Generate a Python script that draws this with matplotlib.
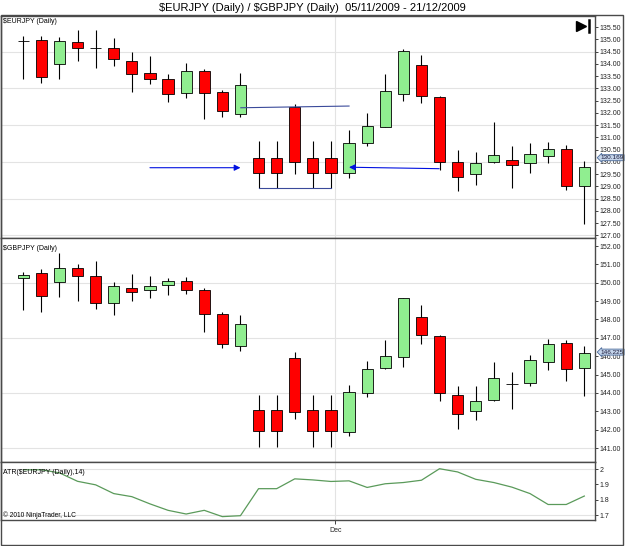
import matplotlib
matplotlib.use('Agg')
import matplotlib.pyplot as plt
from matplotlib.patches import Rectangle
from matplotlib.transforms import blended_transform_factory
import numpy as np

plt.rcParams['font.family'] = ['Liberation Sans', 'DejaVu Sans']

# $EURJPY daily bars (05/11/2009 onward)
eur_open = [134.95, 134.98, 133.99, 134.89, 134.67, 134.64, 134.11, 133.62, 133.38, 132.82,
            133.70, 132.84, 131.96, 130.16, 130.16, 132.23, 130.16, 130.16, 129.55, 130.78,
            131.43, 132.78, 133.95, 132.65, 129.98, 129.49, 130.00, 130.06, 129.94, 130.23,
            130.51, 129.02]
eur_high = [135.16, 135.16, 135.09, 135.39, 135.39, 135.05, 134.48, 134.34, 133.60, 134.03,
            133.79, 132.95, 133.62, 130.85, 130.85, 132.35, 130.85, 130.85, 131.30, 132.00,
            133.59, 134.61, 134.37, 132.69, 130.48, 130.39, 131.61, 130.64, 130.78, 130.81,
            130.70, 130.04]
eur_low = [133.37, 133.23, 133.37, 134.13, 133.82, 133.93, 132.87, 133.18, 132.43, 132.59,
           131.75, 131.82, 131.84, 128.95, 128.95, 129.51, 128.95, 128.95, 129.32, 130.66,
           131.41, 132.50, 132.39, 129.66, 128.81, 129.04, 129.94, 128.92, 129.55, 129.94,
           128.86, 127.45]
eur_close = [134.95, 133.45, 134.94, 134.65, 134.67, 134.20, 133.60, 133.37, 132.78, 133.70,
             132.82, 132.09, 133.13, 129.55, 129.55, 129.99, 129.55, 129.55, 130.79, 131.46,
             132.88, 134.53, 132.68, 130.00, 129.40, 129.94, 130.26, 129.87, 130.30, 130.51,
             129.02, 129.77]
eur_last = 130.169

# $GBPJPY daily bars
gbp_open = [150.24, 150.51, 150.03, 150.82, 150.39, 148.92, 149.70, 149.59, 149.86, 150.12,
            149.61, 148.30, 146.55, 143.07, 143.07, 145.91, 143.07, 143.07, 141.87, 143.99,
            145.35, 145.95, 148.11, 147.09, 143.90, 143.00, 143.63, 144.48, 144.54, 145.71,
            146.71, 145.37]
gbp_high = [150.61, 150.75, 151.60, 151.02, 151.18, 150.03, 150.46, 150.37, 150.24, 150.33,
            149.70, 148.39, 148.25, 143.90, 143.90, 146.22, 143.90, 143.90, 144.45, 145.75,
            146.87, 149.19, 148.79, 147.14, 144.36, 144.39, 145.68, 145.13, 146.06, 146.95,
            146.87, 146.57]
gbp_low = [148.54, 148.43, 149.21, 149.01, 148.58, 148.25, 149.01, 149.16, 149.34, 149.41,
           147.34, 146.47, 146.31, 141.06, 141.06, 142.56, 141.06, 141.06, 141.66, 143.78,
           145.30, 145.44, 146.69, 143.59, 142.02, 142.51, 143.59, 143.14, 144.36, 145.24,
           144.66, 143.83]
gbp_close = [150.41, 149.26, 150.82, 150.39, 148.92, 149.84, 149.48, 149.81, 150.08, 149.59,
             148.30, 146.66, 147.74, 141.93, 141.93, 142.96, 141.93, 141.93, 144.03, 145.28,
             145.99, 149.16, 147.14, 143.99, 142.87, 143.58, 144.81, 144.48, 145.79, 146.66,
             145.28, 146.17]
gbp_last = 146.225

# ATR($EURJPY (Daily),14)
atr = [1.995, 1.995, 1.975, 1.920, 1.897, 1.840, 1.820, 1.773, 1.731, 1.707,
       1.731, 1.690, 1.696, 1.872, 1.872, 1.936, 1.929, 1.919, 1.923, 1.880,
       1.904, 1.912, 1.927, 2.002, 1.981, 1.933, 1.912, 1.882, 1.840, 1.769,
       1.769, 1.824]

# hand-drawn annotations on the EURJPY panel: (x0, y0, x1, y1)
resistance_line = (12.02, 132.21, 18.0, 132.28)
arrow_left = (7.0, 129.76, 12.0, 129.76)
arrow_right = (22.98, 129.72, 18.0, 129.78)
dec_pos = 17.25

x = np.arange(len(eur_open))
W, H = 625, 546
frame_col = '#4a4a4a'
grid_col = '#e3e3e3'


def draw_candles(ax, o, h, l, c):
    o, h, l, c = map(np.asarray, (o, h, l, c))
    ax.vlines(x, l, h, color='black', lw=0.8, zorder=2)
    cols = np.where(c > o, '#90ee90', '#ff0000')
    ax.bar(x, np.abs(c - o), bottom=np.minimum(o, c), width=0.62, color=cols,
           edgecolor='black', linewidth=0.6, zorder=3)


def style_axis(ax, ticks, labels, ylim, grid):
    ax.set_xlim(-1.23, 31.59)
    ax.set_ylim(*ylim)
    ax.yaxis.tick_right()
    ax.set_yticks(ticks)
    ax.set_yticklabels(labels)
    ax.tick_params(axis='y', labelsize=5, length=2.5, width=0.6, pad=1, colors='#222222')
    ax.tick_params(axis='x', bottom=False, labelbottom=False)
    for g in grid:
        ax.axhline(g, color=grid_col, lw=0.8, zorder=0)
    ax.axvline(dec_pos, color=grid_col, lw=0.8, zorder=0)
    for s in ax.spines.values():
        s.set_color(frame_col)
        s.set_linewidth(1.0)


def box(top, bottom):
    return [1 / W, 1 - bottom / H, 594 / W, (bottom - top) / H]


fig = plt.figure(figsize=(W / 100, H / 100), dpi=100)
ax1 = fig.add_axes(box(15.5, 237.7))
ax2 = fig.add_axes(box(238.3, 461.5))
ax3 = fig.add_axes(box(461.5, 520))

# panel 1
t1 = np.arange(127.0, 135.51, 0.5)
style_axis(ax1, t1, ['%.2f' % v for v in t1], (126.90, 135.98),
           np.arange(127.0, 134.6, 1.5))
draw_candles(ax1, eur_open, eur_high, eur_low, eur_close)
ax1.text(0.004, 0.972, r'\$EURJPY (Daily)', transform=ax1.transAxes, fontsize=5,
         va='center', ha='left')

navy = '#3a4a9a'
ax1.plot(resistance_line[0::2], resistance_line[1::2], color=navy, lw=0.8, zorder=4)
ax1.plot([13, 17], [eur_low[13], eur_low[17]], color=navy, lw=0.8, zorder=4)
for a in (arrow_left, arrow_right):
    ax1.annotate('', xy=(a[2], a[3]), xytext=(a[0], a[1]),
                 arrowprops=dict(arrowstyle='-|>', color=navy, lw=0.8,
                                 mutation_scale=9, shrinkA=0, shrinkB=0,
                                 fc='#0010e0', ec='#0010e0'), zorder=5)

# play-to-end icon
ax1.plot([0.9765], [0.953], marker='>', ms=7, color='black', transform=ax1.transAxes,
         clip_on=False)
ax1.plot([0.9905, 0.9905], [0.927, 0.979], color='black', lw=1.8, transform=ax1.transAxes,
         clip_on=False)

# panel 2
t2 = np.arange(141, 153)
style_axis(ax2, t2, ['%.2f' % v for v in t2], (140.27, 152.42), [141, 144, 147, 150])
draw_candles(ax2, gbp_open, gbp_high, gbp_low, gbp_close)
ax2.text(0.004, 0.955, r'\$GBPJPY (Daily)', transform=ax2.transAxes, fontsize=5,
         va='center', ha='left')

# price markers (cover the tick label underneath, as in the platform)
for ax, v in ((ax1, eur_last), (ax2, gbp_last)):
    tr = blended_transform_factory(ax.transAxes, ax.transData)
    ax.text(1.009, v, '%g' % v, transform=tr, fontsize=4.6, va='center', ha='left',
            color='#1a1a3a', zorder=6,
            bbox=dict(boxstyle='larrow,pad=0.08', fc='#c4d4ea', ec='#4a6a9a', lw=0.6))

# panel 3
style_axis(ax3, [1.7, 1.8, 1.9, 2.0], ['1.7', '1.8', '1.9', '2'], (1.668, 2.049), [1.7, 2.0])
ax3.plot(x, atr, color='#5a9a5a', lw=0.9, zorder=3)
ax3.set_xticks([dec_pos])
ax3.set_xticklabels(['Dec'])
ax3.tick_params(axis='x', bottom=True, labelbottom=True, labelsize=5, length=3,
                width=0.6, pad=2, colors='#222222')
ax3.text(0.004, 0.82, r'ATR(\$EURJPY (Daily),14)', transform=ax3.transAxes, fontsize=5,
         va='center', ha='left')
ax3.text(0.004, 0.08, '© 2010 NinjaTrader, LLC', transform=ax3.transAxes, fontsize=4.8,
         va='center', ha='left')

# outer frame and title
fig.add_artist(Rectangle((1 / W, 1 - 545 / H), 622 / W, 530 / H, transform=fig.transFigure,
                         fill=False, ec=frame_col, lw=1.0))
fig.text(0.5, 1 - 8 / H, r'\$EURJPY (Daily) / \$GBPJPY (Daily)  05/11/2009 - 21/12/2009',
         ha='center', va='center', fontsize=8)

fig.savefig('out.png', dpi=100)
